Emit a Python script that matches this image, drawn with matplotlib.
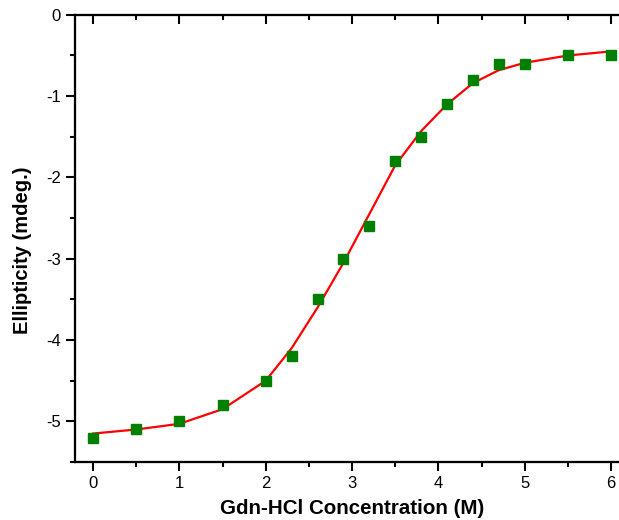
import matplotlib
matplotlib.use('Agg')
import matplotlib.pyplot as plt
from matplotlib.ticker import MultipleLocator

plt.rcParams['font.family'] = ['Liberation Sans', 'DejaVu Sans']
plt.rcParams['axes.unicode_minus'] = False

# measured points
conc = [0, 0.5, 1, 1.5, 2, 2.3, 2.6, 2.9, 3.2, 3.5, 3.8, 4.1, 4.4, 4.7, 5, 5.5, 6]
ellip = [-5.2, -5.1, -5.0, -4.8, -4.5, -4.2, -3.5, -3.0, -2.6, -1.8, -1.5,
         -1.1, -0.8, -0.6, -0.6, -0.5, -0.5]
# fitted curve
fit = [-5.15, -5.1, -5.03, -4.85, -4.5, -4.1, -3.6, -3.05, -2.45, -1.85, -1.43,
       -1.1, -0.84, -0.68, -0.59, -0.5, -0.45]

fig = plt.figure(figsize=(6.19, 5.2), dpi=100)
ax = fig.add_axes([0.121, 0.1115, 0.897, 0.86])

ax.plot(conc, fit, color='red', linewidth=1.6, zorder=2)
ax.plot(conc, ellip, linestyle='none', marker='s', markersize=7.2,
        color='#008000', zorder=3)

xlim = (-0.21, 6.22)
ylim = (-5.5, 0)
ax.set_xlim(xlim)
ax.set_ylim(ylim)


def set_ticks(a):
    a.xaxis.set_major_locator(MultipleLocator(1))
    a.xaxis.set_minor_locator(MultipleLocator(0.5))
    a.yaxis.set_major_locator(MultipleLocator(1))
    a.yaxis.set_minor_locator(MultipleLocator(0.5))
    a.tick_params(which='major', length=6.5)
    a.tick_params(which='minor', length=3.6)
    for s in a.spines.values():
        s.set_linewidth(1.5)


set_ticks(ax)
ax.tick_params(which='both', direction='out', width=1.5, labelsize=12,
               top=False, right=False)

# inward ticks on top and right, no labels
top = ax.twiny()
top.set_xlim(xlim)
right = ax.twinx()
right.set_ylim(ylim)
set_ticks(top)
set_ticks(right)
top.tick_params(which='both', direction='in', width=1.5,
                labeltop=False, labelbottom=False)
right.tick_params(which='both', direction='in', width=1.5,
                  labelright=False, labelleft=False)

ax.set_xlabel('Gdn-HCl Concentration (M)', fontsize=14.8, fontweight='bold', labelpad=6)
ax.set_ylabel('Ellipticity (mdeg.)', fontsize=14.5, fontweight='bold', va='center')
ax.yaxis.set_label_coords(-0.095, 0.474)

fig.savefig('out.png', dpi=100)
